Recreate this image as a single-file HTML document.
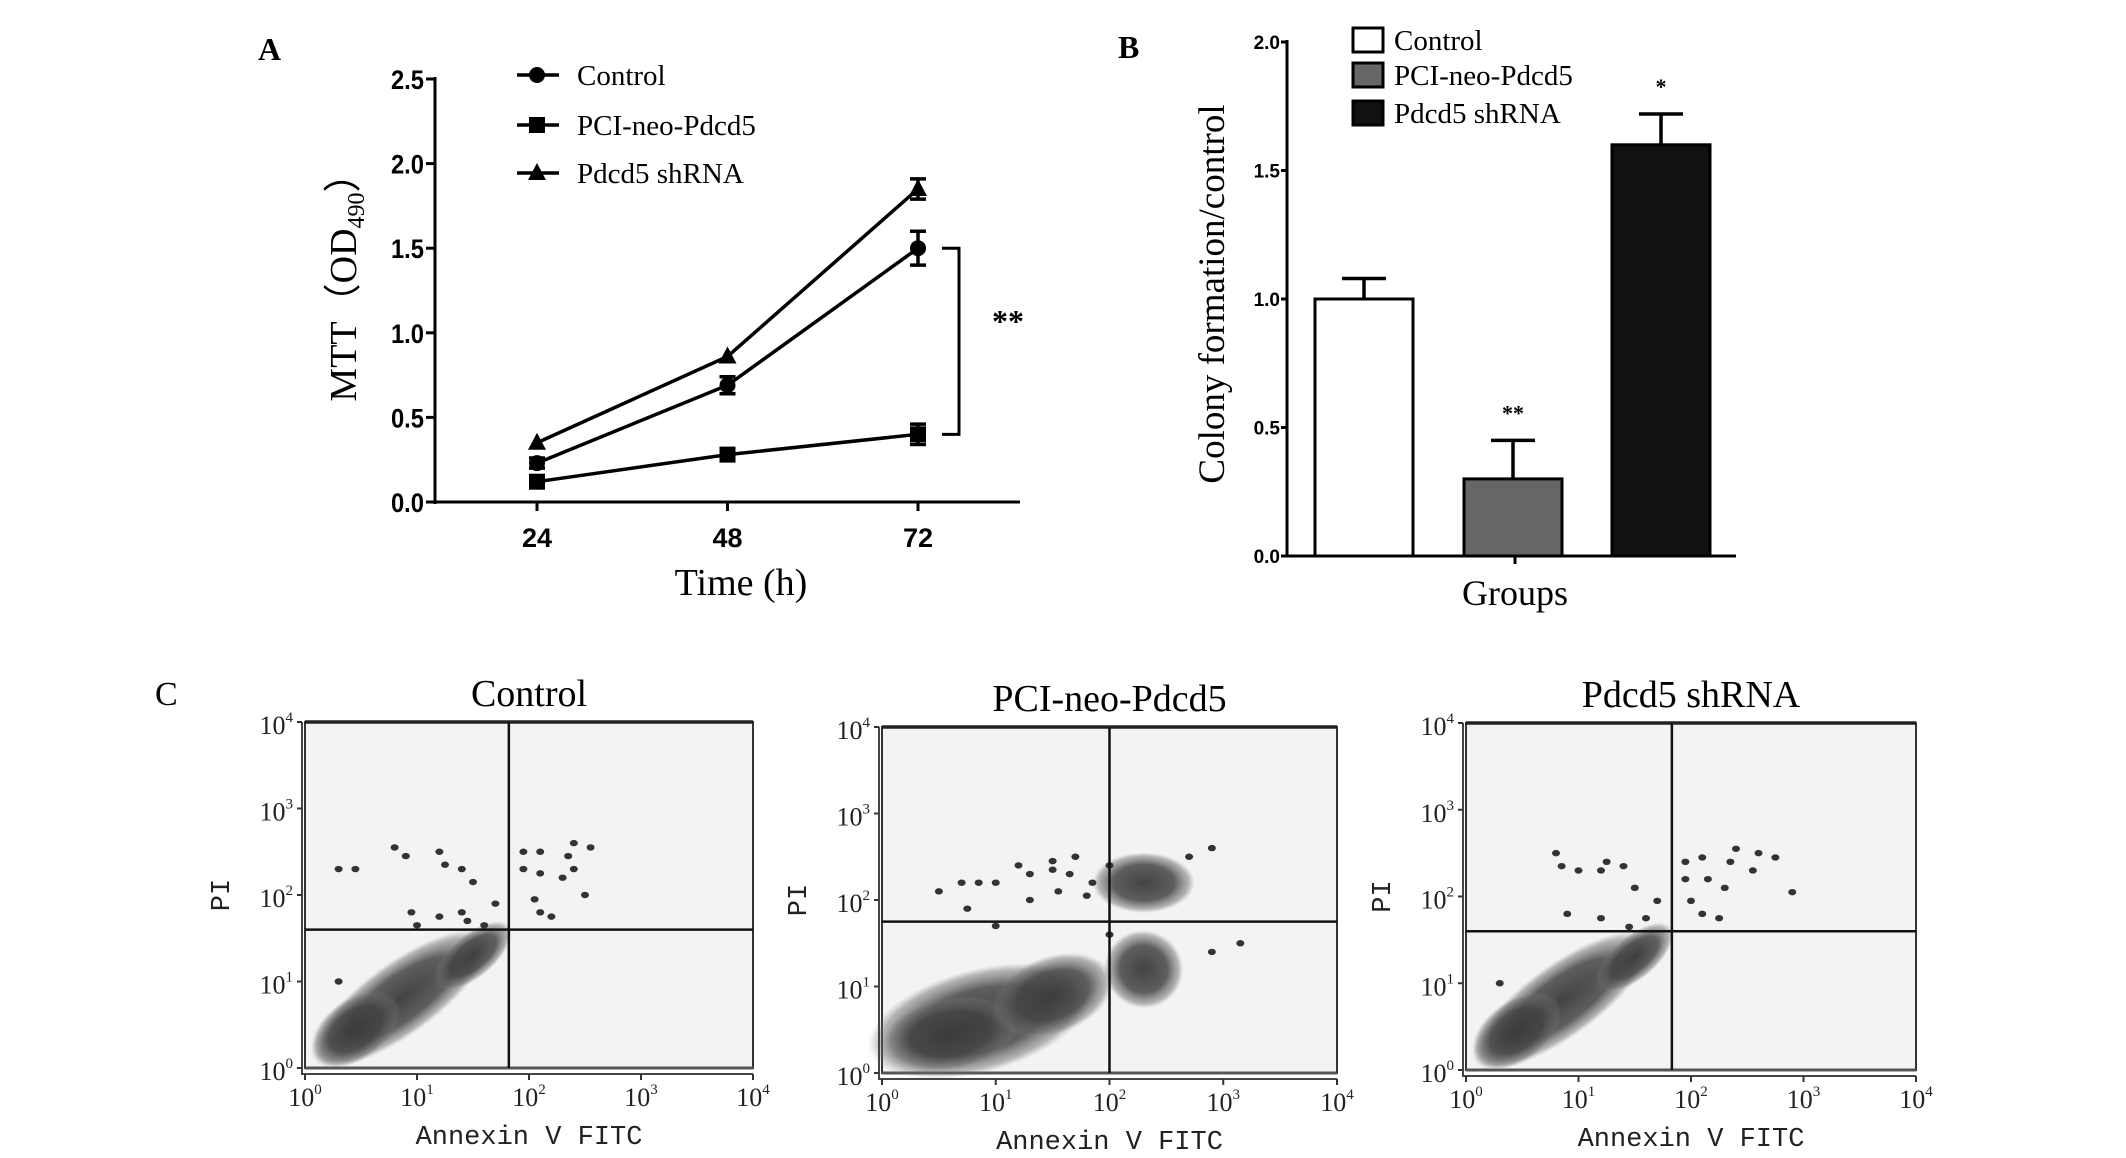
<!DOCTYPE html>
<html><head><meta charset="utf-8"><style>
html,body{margin:0;padding:0;background:#fff;}
svg{display:block;}
</style></head><body>
<svg id="fig" xmlns="http://www.w3.org/2000/svg" width="2126" height="1158" viewBox="0 0 2126 1158">
<defs>
<radialGradient id="cloudGrad" cx="50%" cy="50%" r="50%">
<stop offset="0%" stop-color="#3a3a3a" stop-opacity="0.95"/>
<stop offset="60%" stop-color="#444" stop-opacity="0.85"/>
<stop offset="88%" stop-color="#666" stop-opacity="0.45"/>
<stop offset="100%" stop-color="#888" stop-opacity="0"/>
</radialGradient>
</defs>
<g id="panelA"></g>
<g id="panelB"></g>
<g id="panelC"></g>
</svg>
<script>
// ---------- Panel A data ----------
const aTimes = [24, 48, 72];
const aControl = [0.23, 0.69, 1.50];
const aControlErr = [0.03, 0.05, 0.10];
const aPCI = [0.12, 0.28, 0.40];
const aPCIErr = [0.02, 0.02, 0.06];
const aShRNA = [0.35, 0.86, 1.85];
const aShRNAErr = [0.02, 0.02, 0.06];
const aYTicks = [0, 0.5, 1.0, 1.5, 2.0, 2.5];
const aYTickLabels = ["0.0", "0.5", "1.0", "1.5", "2.0", "2.5"];
// ---------- Panel B data ----------
const bGroups = ["Control", "PCI-neo-Pdcd5", "Pdcd5 shRNA"];
const bValues = [1.0, 0.30, 1.60];
const bErr = [0.08, 0.15, 0.12];
const bSig = ["", "**", "*"];
const bYTicks = [0, 0.5, 1.0, 1.5, 2.0];
const bYTickLabels = ["0.0", "0.5", "1.0", "1.5", "2.0"];
// ---------- Panel C data (log10 units) ----------
const cTitles = ["Control", "PCI-neo-Pdcd5", "Pdcd5 shRNA"];
const cQuadX = [1.82, 2.0, 1.83];
const cQuadY = [1.6, 1.75, 1.6];
const cClouds0 = [[0.85,0.8,0.95,0.42,36],[0.45,0.45,0.45,0.35,36],[1.5,1.3,0.42,0.25,40]];
const cClouds1 = [[0.85,0.6,1.0,0.6,15],[0.6,0.45,0.6,0.42,10],[1.5,0.9,0.55,0.45,20],[2.3,2.2,0.45,0.35,0],[2.3,1.2,0.35,0.45,-30]];
const cClouds2 = [[0.85,0.8,0.95,0.42,36],[0.45,0.45,0.45,0.35,36],[1.5,1.3,0.42,0.25,40]];
const cDots0 = [[0.3,2.3],[0.45,2.3],[0.8,2.55],[0.9,2.45],[1.2,2.5],[1.25,2.35],[1.4,2.3],[1.5,2.15],[1.7,1.9],[0.95,1.8],[1.2,1.75],[1.45,1.7],[1.6,1.65],[1.4,1.8],[1.95,2.5],[2.1,2.5],[2.4,2.6],[2.55,2.55],[2.35,2.45],[1.95,2.3],[2.1,2.25],[2.3,2.2],[2.4,2.3],[2.5,2.0],[2.05,1.95],[2.1,1.8],[2.2,1.75],[0.3,1.0],[1.0,1.65]];
const cDots1 = [[0.5,2.1],[0.7,2.2],[0.85,2.2],[1.0,2.2],[1.3,2.3],[1.5,2.35],[1.7,2.5],[1.65,2.3],[1.85,2.2],[2.0,2.4],[1.2,2.4],[0.75,1.9],[1.0,1.7],[1.5,2.45],[1.8,2.05],[2.0,1.6],[2.9,1.4],[3.15,1.5],[2.9,2.6],[2.7,2.5],[1.55,2.1],[1.3,2.0]];
const cDots2 = [[0.3,1.0],[0.8,2.5],[0.85,2.35],[1.0,2.3],[1.2,2.3],[1.25,2.4],[1.4,2.35],[1.5,2.1],[1.7,1.95],[0.9,1.8],[1.2,1.75],[1.45,1.65],[1.6,1.75],[1.95,2.4],[2.1,2.45],[2.4,2.55],[2.6,2.5],[2.75,2.45],[2.35,2.4],[1.95,2.2],[2.15,2.2],[2.3,2.1],[2.55,2.3],[2.9,2.05],[2.0,1.95],[2.1,1.8],[2.25,1.75]];
const cTickLabels = ["0","1","2","3","4"];

const NS = "http://www.w3.org/2000/svg";
function mk(parent, tag, attrs, text){
  const e = document.createElementNS(NS, tag);
  for (const k in attrs) e.setAttribute(k, attrs[k]);
  if (text !== undefined) e.textContent = text;
  parent.appendChild(e);
  return e;
}
const SERIF = '"Liberation Serif", serif';
const SANS = '"Liberation Sans", sans-serif';

// ================= Panel A =================
(function(){
  const g = document.getElementById('panelA');
  const x0 = 537, x1 = 918, yBase = 502, yTop = 79;
  const xs = v => x0 + (v - aTimes[0]) * (x1 - x0) / (aTimes[2] - aTimes[0]);
  const ys = v => yBase - v * (yBase - yTop) / 2.5;
  let t = mk(g,'text',{x:258,y:60,'font-family':SERIF,'font-size':32,'font-weight':'bold'},'A');
   
  let ax = mk(g,'line',{x1:435,y1:ys(2.5)-2,x2:435,y2:yBase+2,stroke:'#000','stroke-width':3});
   
  ax = mk(g,'line',{x1:433,y1:yBase,x2:1020,y2:yBase,stroke:'#000','stroke-width':3});
   
  aYTicks.forEach((v,i)=>{
    const tk = mk(g,'line',{x1:426,y1:ys(v),x2:435,y2:ys(v),stroke:'#000','stroke-width':3});
     
    const tl = mk(g,'text',{x:424,y:ys(v)+10,'text-anchor':'end','font-family':SANS,'font-size':27,'font-weight':'bold',transform:`translate(${424*0.12},0) scale(0.88,1)`},aYTickLabels[i]);
     
  });
  aTimes.forEach(v=>{
    const tk = mk(g,'line',{x1:xs(v),y1:yBase,x2:xs(v),y2:yBase+9,stroke:'#000','stroke-width':3});
     
    const tl = mk(g,'text',{x:xs(v),y:547,'text-anchor':'middle','font-family':SANS,'font-size':27,'font-weight':'bold'},String(v));
     
  });
  t = mk(g,'text',{x:741,y:595,'text-anchor':'middle','font-family':SERIF,'font-size':38},'Time (h)');
   
  t = mk(g,'text',{x:0,y:0,'text-anchor':'middle','font-family':SERIF,'font-size':38,transform:'translate(356,278) rotate(-90)'});
   
  t.innerHTML = 'MTT（OD<tspan font-size="24" dy="8">490</tspan><tspan dy="-8">）</tspan>';

  function marker(grp, kind, cx, cy){
    let m;
    if (kind==='circle') m = mk(grp,'circle',{cx:cx,cy:cy,r:8,fill:'#000'});
    else if (kind==='square') m = mk(grp,'rect',{x:cx-8,y:cy-8,width:16,height:16,fill:'#000'});
    else m = mk(grp,'polygon',{points:`${cx},${cy-10} ${cx+9},${cy+7} ${cx-9},${cy+7}`,fill:'#000'});
     
  }
  const series = [
    {name:'control',vals:aControl,err:aControlErr,kind:'circle',label:'Control',ly:75},
    {name:'pci-neo-pdcd5',vals:aPCI,err:aPCIErr,kind:'square',label:'PCI-neo-Pdcd5',ly:125},
    {name:'pdcd5-shrna',vals:aShRNA,err:aShRNAErr,kind:'triangle',label:'Pdcd5 shRNA',ly:173}
  ];
  series.forEach(s=>{
    const sg = mk(g,'g',{});
     
    const pts = s.vals.map((v,i)=>`${xs(aTimes[i])},${ys(v)}`).join(' ');
    const pl = mk(sg,'polyline',{points:pts,fill:'none',stroke:'#000','stroke-width':3.5});
     
    s.vals.forEach((v,i)=>{
      const cx = xs(aTimes[i]);
      const e = s.err[i];
      if (e > 0.025){
        const eb = mk(sg,'path',{d:`M${cx},${ys(v+e)}V${ys(v-e)}M${cx-8},${ys(v+e)}H${cx+8}M${cx-8},${ys(v-e)}H${cx+8}`,stroke:'#000','stroke-width':3.5,fill:'none'});
         
      }
      marker(sg, s.kind, cx, ys(v));
    });
    const lg = mk(g,'g',{});
     
    mk(lg,'line',{x1:517,y1:s.ly,x2:559,y2:s.ly,stroke:'#000','stroke-width':3.5});
    marker(lg, s.kind, 537, s.ly);
    mk(lg,'text',{x:577,y:s.ly+10,'font-family':SERIF,'font-size':29},s.label);
  });
  const br = mk(g,'path',{d:`M942,${ys(aControl[2])}H959V${ys(aPCI[2])}H942`,fill:'none',stroke:'#000','stroke-width':3});
   
  t = mk(g,'text',{x:1008,y:332,'text-anchor':'middle','font-family':SERIF,'font-size':32,'font-weight':'bold'},'**');
   
})();

// ================= Panel B =================
(function(){
  const g = document.getElementById('panelB');
  const yBase = 556, yTop = 42, ax0 = 1287;
  const ys = v => yBase - v * (yBase - yTop) / 2.0;
  const barX = [1315, 1464, 1612], barW = 98;
  const fills = ['#fff','#666','#111'];
  let t = mk(g,'text',{x:1118,y:58,'font-family':SERIF,'font-size':32,'font-weight':'bold'},'B');
   
  bValues.forEach((v,i)=>{
    const r = mk(g,'rect',{x:barX[i],y:ys(v),width:barW,height:yBase-ys(v),fill:fills[i],stroke:'#000','stroke-width':3});
     
    const cx = barX[i]+barW/2;
    const eb = mk(g,'path',{d:`M${cx},${ys(v)}V${ys(v+bErr[i])}M${cx-22},${ys(v+bErr[i])}H${cx+22}`,stroke:'#000','stroke-width':3.5,fill:'none'});
     
    if (bSig[i]){
      const s = mk(g,'text',{x:cx,y:ys(v+bErr[i])-20,'text-anchor':'middle','font-family':SERIF,'font-size':22,'font-weight':'bold'},bSig[i]);
       
    }
  });
  let ax = mk(g,'line',{x1:ax0,y1:ys(2)-2,x2:ax0,y2:yBase+1.5,stroke:'#000','stroke-width':3});
   
  ax = mk(g,'line',{x1:ax0-2,y1:yBase,x2:1736,y2:yBase,stroke:'#000','stroke-width':3});
   
  const xt = mk(g,'line',{x1:1515,y1:yBase,x2:1515,y2:yBase+8,stroke:'#000','stroke-width':3});
   
  bYTicks.forEach((v,i)=>{
    const tk = mk(g,'line',{x1:ax0-6,y1:ys(v),x2:ax0,y2:ys(v),stroke:'#000','stroke-width':3});
     
    const tl = mk(g,'text',{x:ax0-7,y:ys(v)+7,'text-anchor':'end','font-family':SANS,'font-size':19,'font-weight':'bold'},bYTickLabels[i]);
     
  });
  t = mk(g,'text',{x:1515,y:605,'text-anchor':'middle','font-family':SERIF,'font-size':36},'Groups');
   
  t = mk(g,'text',{x:0,y:0,'text-anchor':'middle','font-family':SERIF,'font-size':37,transform:'translate(1224,294) rotate(-90)'},'Colony formation/control');
   
  const ly = [40,75,113];
  bGroups.forEach((name,i)=>{
    const lg = mk(g,'g',{});
     
    mk(lg,'rect',{x:1353,y:ly[i]-12,width:30,height:24,fill:fills[i],stroke:'#000','stroke-width':3});
    mk(lg,'text',{x:1394,y:ly[i]+10,'font-family':SERIF,'font-size':29},name);
  });
})();

// ================= Panel C =================
(function(){
  const g = document.getElementById('panelC');
  let t = mk(g,'text',{x:155,y:705,'font-family':SERIF,'font-size':34},'C');
   
  const boxes = [[305,722,448,346],[882,727,455,346],[1466,723,450,347]];
  const clouds = [cClouds0,cClouds1,cClouds2];
  const dots = [cDots0,cDots1,cDots2];
  const names = ['control','pci-neo-pdcd5','pdcd5-shrna'];
  boxes.forEach((b,p)=>{
    const [bx,by,bw,bh] = b;
    const xs = v => bx + v*bw/4;
    const ys = v => by + bh - v*bh/4;
    const pg = mk(g,'g',{});
     
    const bg = mk(pg,'rect',{x:bx,y:by,width:bw,height:bh,fill:'#f3f3f3',stroke:'#333','stroke-width':2});
     
    mk(pg,'line',{x1:bx,y1:by,x2:bx+bw,y2:by,stroke:'#222','stroke-width':3.5});
    mk(pg,'line',{x1:bx,y1:by+bh,x2:bx+bw,y2:by+bh,stroke:'#555','stroke-width':3});
    clouds[p].forEach(c=>{
      const [cx,cy,rx,ry,ang] = c;
      const e = mk(pg,'ellipse',{cx:xs(cx),cy:ys(cy),rx:rx*bw/4,ry:ry*bh/4,fill:'url(#cloudGrad)',transform:`rotate(${-ang} ${xs(cx)} ${ys(cy)})`});
       
    });
    dots[p].forEach(d=>{
      const c = mk(pg,'ellipse',{cx:xs(d[0]),cy:ys(d[1]),rx:4,ry:3.2,fill:'#333'});
       
    });
    const qv = mk(pg,'line',{x1:xs(cQuadX[p]),y1:by,x2:xs(cQuadX[p]),y2:by+bh,stroke:'#111','stroke-width':2.5});
     
    const qh = mk(pg,'line',{x1:bx,y1:ys(cQuadY[p]),x2:bx+bw,y2:ys(cQuadY[p]),stroke:'#111','stroke-width':2.5});
     
    mk(pg,'line',{x1:bx-3,y1:by,x2:bx-3,y2:by+bh+6,stroke:'#444','stroke-width':2});
    mk(pg,'line',{x1:bx-4,y1:by+bh+6,x2:bx+bw,y2:by+bh+6,stroke:'#444','stroke-width':2});
    cTickLabels.forEach((lab,i)=>{
      mk(pg,'line',{x1:bx-8,y1:ys(i),x2:bx-3,y2:ys(i),stroke:'#333','stroke-width':2});
      mk(pg,'line',{x1:xs(i),y1:by+bh+6,x2:xs(i),y2:by+bh+12,stroke:'#333','stroke-width':2});
      const yl = mk(pg,'text',{x:bx-12,y:ys(i)+12,'text-anchor':'end','font-family':SERIF,'font-size':26,fill:'#222'});
       
      yl.innerHTML = `10<tspan font-size="15" dy="-12">${lab}</tspan>`;
      const xl = mk(pg,'text',{x:xs(i),y:by+bh+38,'text-anchor':'middle','font-family':SERIF,'font-size':26,fill:'#222'});
       
      xl.innerHTML = `10<tspan font-size="15" dy="-12">${lab}</tspan>`;
    });
    const tt = mk(pg,'text',{x:bx+bw/2,y:by-16,'text-anchor':'middle','font-family':SERIF,'font-size':38},cTitles[p]);
     
    const xa = mk(pg,'text',{x:bx+bw/2,y:by+bh+76,'text-anchor':'middle','font-family':'"Liberation Mono", monospace','font-size':27,fill:'#222'},'Annexin V FITC');
     
    const ya = mk(pg,'text',{x:0,y:0,'text-anchor':'middle','font-family':'"Liberation Mono", monospace','font-size':27,fill:'#222',transform:`translate(${bx-76},${by+bh*0.5}) rotate(-90)`},'PI');
     
  });
})();
</script>
</body></html>
